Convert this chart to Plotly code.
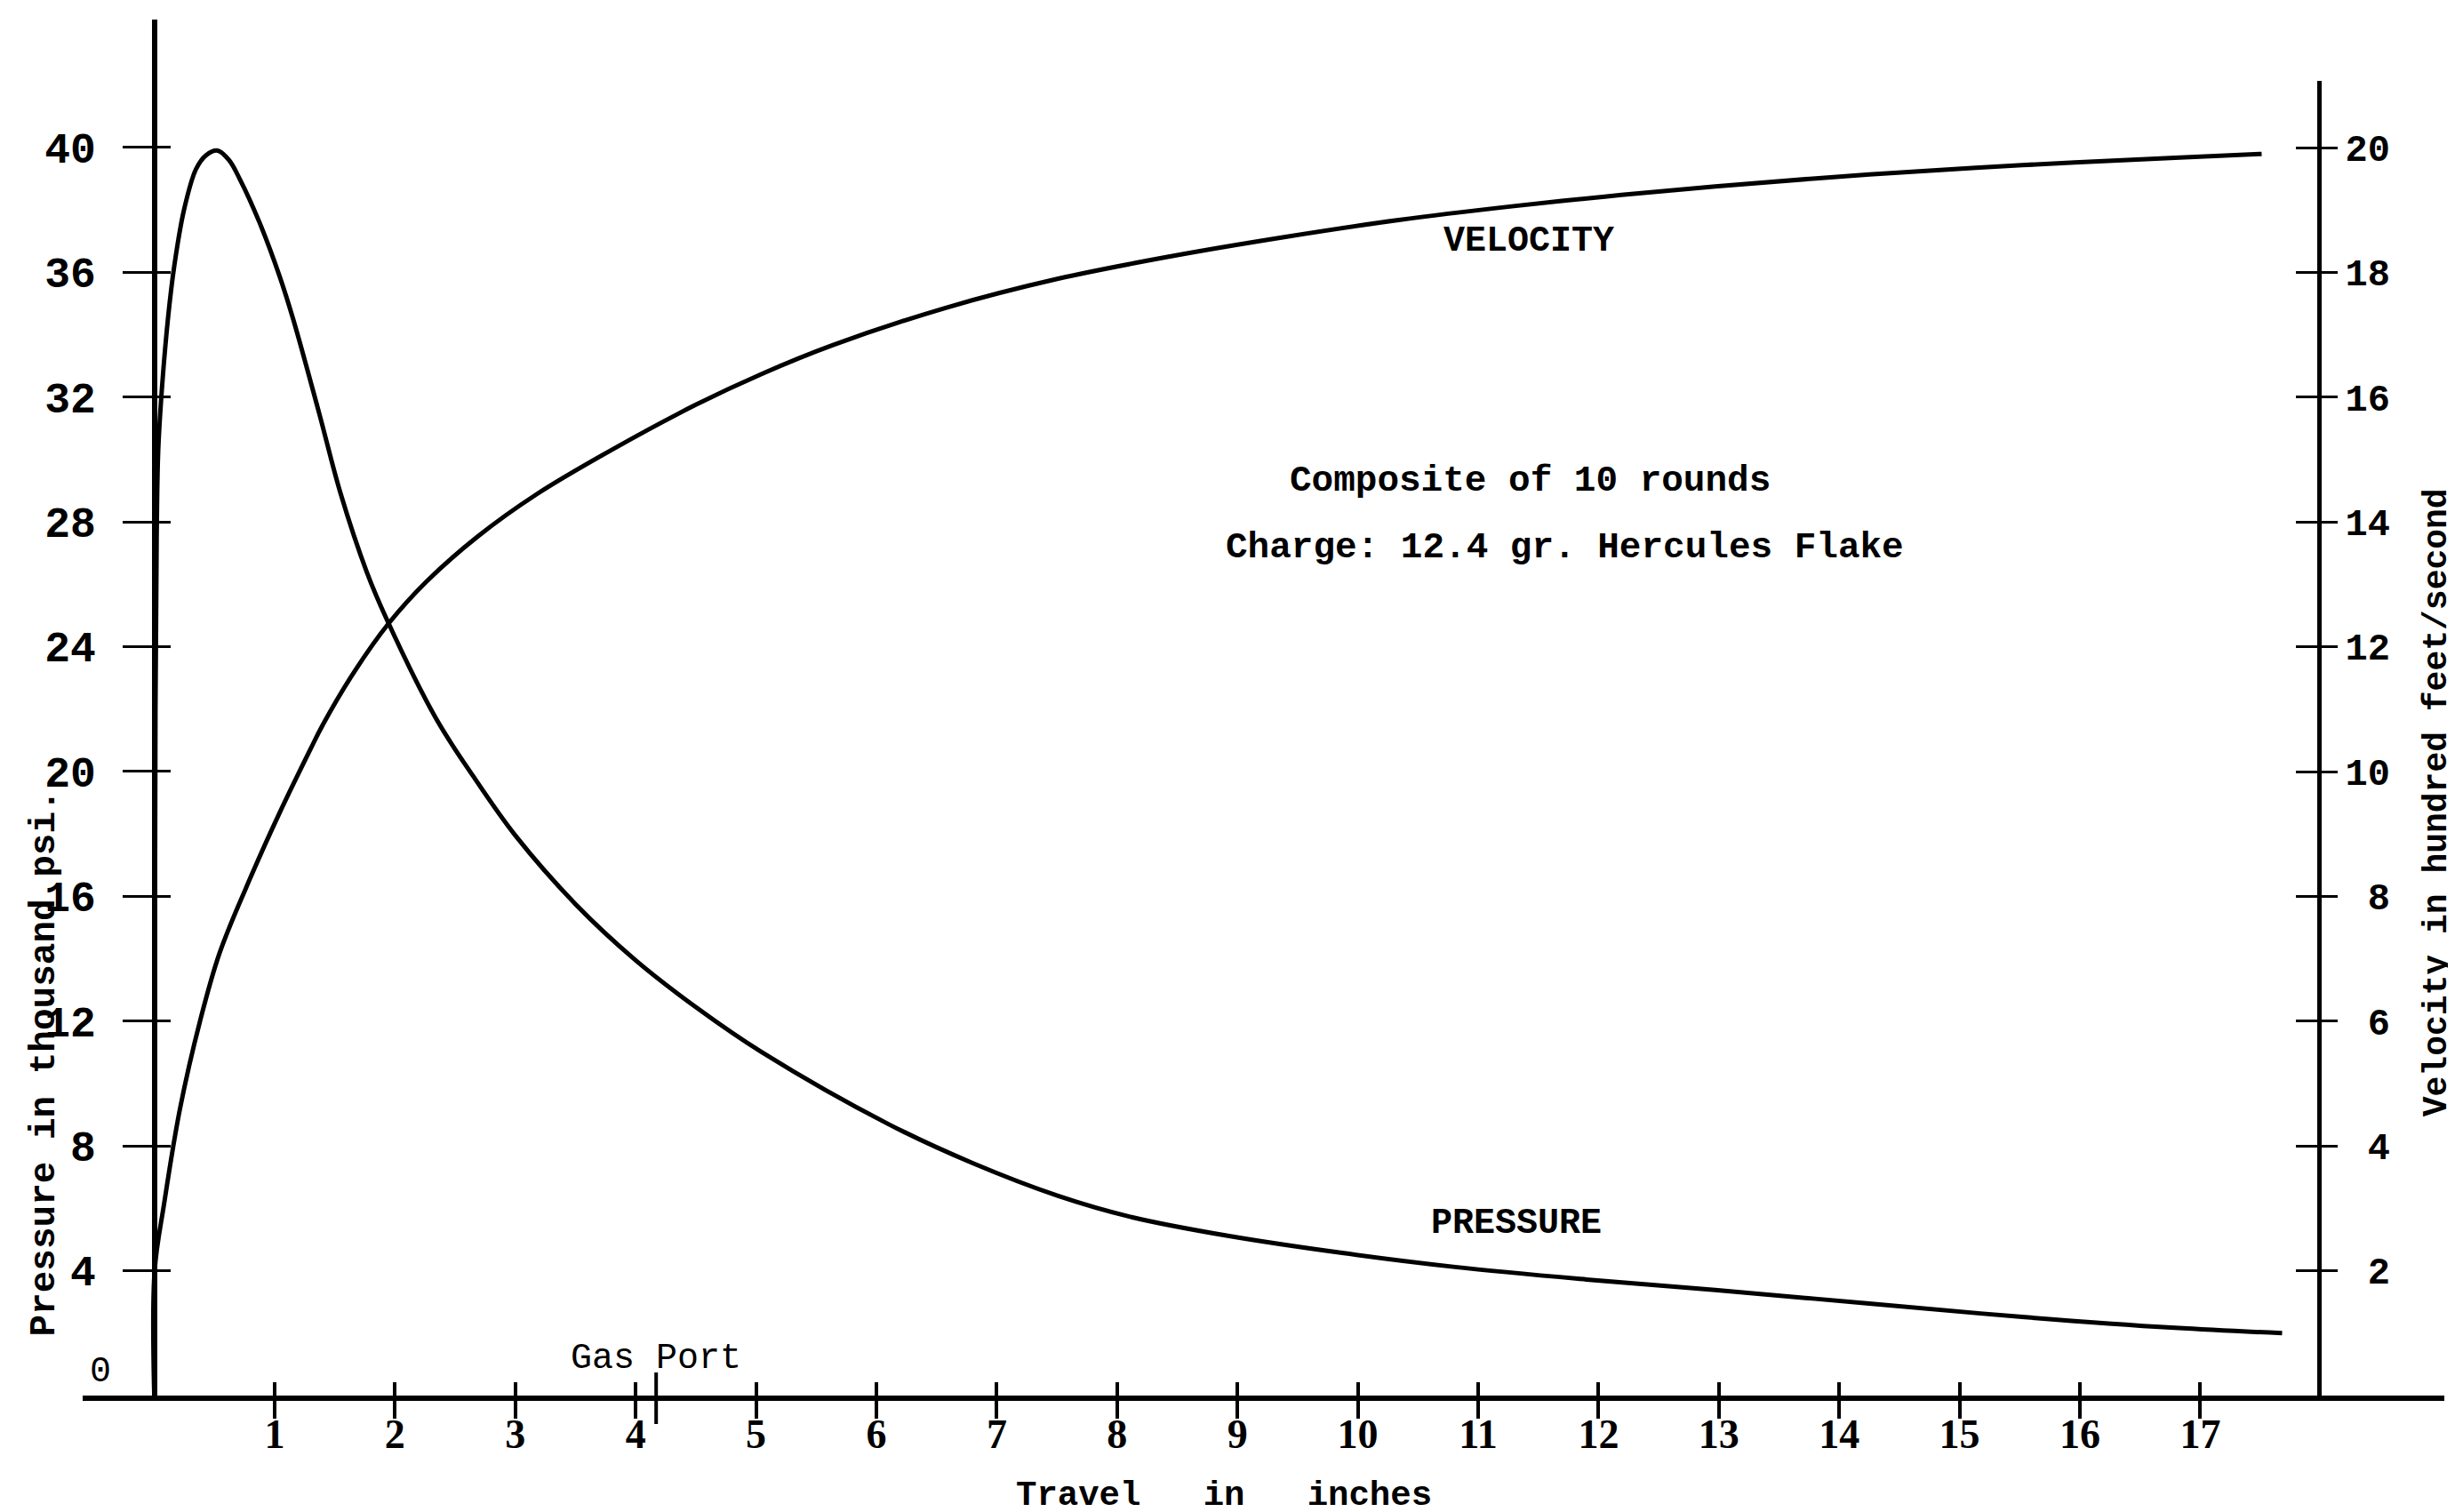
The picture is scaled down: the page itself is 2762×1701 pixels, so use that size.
import plotly.graph_objects as go

# ---------------- data ----------------
TRAVEL_P = [0.0, 0.004, 0.010, 0.020, 0.033, 0.066, 0.116, 0.166, 0.247, 0.346,
            0.43, 0.527, 0.62, 0.709, 0.874, 1.039, 1.154, 1.369, 1.549, 1.765,
            1.929, 2.341, 2.65, 3.0, 3.5, 4.0, 4.5, 5.05, 6.10, 6.80, 7.51,
            8.12, 8.92, 9.87, 10.81, 11.9, 12.97, 14.25, 15.52, 16.79, 17.68]
PRESSURE = [0.0, 12.0, 22.0, 27.5, 30.3, 32.4, 34.6, 36.2, 38.0, 39.3,
            39.75, 39.9, 39.6, 39.0, 37.6, 35.9, 34.5, 31.5, 28.9, 26.4,
            24.9, 21.7, 19.85, 17.95, 15.75, 13.95, 12.45, 11.0, 8.7, 7.45, 6.4,
            5.72, 5.12, 4.57, 4.12, 3.72, 3.38, 2.95, 2.52, 2.17, 2.0]

TRAVEL_V = [0.0, 0.003, 0.083, 0.214, 0.38, 0.544, 0.808, 1.039, 1.303, 1.40,
            1.665, 1.945, 2.258, 2.688, 3.18, 3.84, 4.50, 5.055, 5.63, 6.57,
            7.51, 8.45, 9.40, 10.34, 11.28, 12.07, 12.97, 14.25, 15.52, 16.79, 17.51]
VELOCITY = [0.0, 2.0, 3.09, 4.6, 6.0, 7.1, 8.34, 9.33, 10.38, 10.75,
            11.61, 12.37, 13.04, 13.77, 14.45, 15.2, 15.88, 16.38, 16.83, 17.43,
            17.90, 18.26, 18.57, 18.84, 19.06, 19.22, 19.38, 19.57, 19.72, 19.84, 19.90]

X_TICKS = list(range(1, 18))
X_TICK_LABELS = [str(v) for v in X_TICKS]
P_TICKS = list(range(4, 41, 4))
P_TICK_LABELS = [str(v) for v in P_TICKS]
V_TICKS = list(range(2, 21, 2))
V_TICK_LABELS = [("\u00a0" + str(v)) if v < 10 else str(v) for v in V_TICKS]
GAS_PORT_X = 4.17

# ---------------- layout geometry ----------------
W, H = 2762, 1701
ML, MR, MT, MB = 85, 20, 14, 139
PLOT_H = H - MT - MB
X_RANGE = [-0.595, 19.028]
P_RANGE = [0, 44.10]
V_RANGE = [0, 21.07]
Y2_TOP = 0.9554
Y_POS_L = 0.0303
Y_POS_R = 0.9470

MONO = "Liberation Mono, Courier New, monospace"
SERIF = "Liberation Serif, Times New Roman, serif"
BLACK = "black"
CLEAR = "rgba(0,0,0,0)"

fig = go.Figure()
fig.add_trace(go.Scatter(x=TRAVEL_P, y=PRESSURE, mode="lines", xaxis="x", yaxis="y",
                         line=dict(color=BLACK, width=5, shape="spline", smoothing=1.0),
                         showlegend=False, hoverinfo="skip"))
fig.add_trace(go.Scatter(x=TRAVEL_V, y=VELOCITY, mode="lines", xaxis="x", yaxis="y2",
                         line=dict(color=BLACK, width=5, shape="spline", smoothing=1.0),
                         showlegend=False, hoverinfo="skip"))
# empty traces so the tick-only overlay axes (crossing tick marks) get drawn
for xa, ya in (("x2", "y"), ("x", "y3"), ("x", "y4")):
    fig.add_trace(go.Scatter(x=[None], y=[None], mode="lines", xaxis=xa, yaxis=ya,
                             showlegend=False, hoverinfo="skip"))

common = dict(showgrid=False, zeroline=False, fixedrange=True, tickcolor=BLACK, linecolor=BLACK)

fig.update_layout(
    width=W, height=H,
    margin=dict(l=ML, r=MR, t=MT, b=MB, pad=0),
    paper_bgcolor="white", plot_bgcolor=CLEAR,
    showlegend=False,
    xaxis=dict(domain=[0, 1], range=X_RANGE, anchor="y", side="bottom",
               showline=True, linewidth=6, ticks="outside", ticklen=20, tickwidth=4,
               tickvals=X_TICKS, ticktext=X_TICK_LABELS, ticklabelstandoff=-22,
               tickfont=dict(family=SERIF, size=46, color=BLACK, weight="bold"), **common),
    xaxis2=dict(overlaying="x", range=X_RANGE, anchor="y", side="bottom",
                showline=False, ticks="inside", ticklen=15, tickwidth=4,
                tickvals=X_TICKS, showticklabels=False, **common),
    yaxis=dict(domain=[0, 1], range=P_RANGE, anchor="free", position=Y_POS_L, side="left",
               showline=True, linewidth=6, ticks="outside", ticklen=33, tickwidth=3,
               tickvals=P_TICKS, ticktext=P_TICK_LABELS, ticklabelstandoff=20,
               tickfont=dict(family=MONO, size=48, color=BLACK, weight="bold"), **common),
    yaxis3=dict(overlaying="y", range=P_RANGE, anchor="free", position=Y_POS_L, side="left",
                showline=False, ticks="inside", ticklen=17, tickwidth=3,
                tickvals=P_TICKS, showticklabels=False, **common),
    yaxis2=dict(domain=[0, Y2_TOP], range=V_RANGE, anchor="free", position=Y_POS_R, side="right",
                showline=True, linewidth=5, ticks="outside", ticklen=18, tickwidth=3,
                tickvals=V_TICKS, ticktext=V_TICK_LABELS, ticklabelstandoff=0,
                tickfont=dict(family=MONO, size=42, color=BLACK, weight="bold"), **common),
    yaxis4=dict(overlaying="y2", range=V_RANGE, anchor="free", position=Y_POS_R, side="right",
                showline=False, ticks="inside", ticklen=26, tickwidth=3,
                tickvals=V_TICKS, showticklabels=False, **common),
)

# gas port marker on the travel axis (taller tick)
fig.add_shape(type="line", xref="x", yref="paper", x0=GAS_PORT_X, x1=GAS_PORT_X,
              y0=-32 / PLOT_H, y1=26 / PLOT_H, line=dict(color=BLACK, width=4))

def note(text, x, y, size=40, family=MONO, weight="bold", xref="x", yref="y", angle=0):
    fig.add_annotation(text=text, x=x, y=y, xref=xref, yref=yref, showarrow=False,
                       textangle=angle, xanchor="center", yanchor="middle",
                       font=dict(family=family, size=size, color=BLACK, weight=weight))

note("VELOCITY", 11.42, 37.0)
note("PRESSURE", 11.32, 5.5)
note("Composite of 10 rounds", 11.43, 29.32, size=41)
note("Charge: 12.4 gr. Hercules Flake", 11.72, 27.18, size=41)
note("Gas Port", GAS_PORT_X, 1.17, weight="normal")
note("Pressure in thousand psi.", -0.0162, 0.2419, size=41, xref="paper", yref="paper", angle=-90)
note("Velocity in hundred feet/second", 0.9971, 0.4309, size=38, xref="paper", yref="paper", angle=-90)
note("Travel\u00a0\u00a0\u00a0in\u00a0\u00a0\u00a0inches", 0.4833, -0.0730, size=39,
     xref="paper", yref="paper")
note("0", 0.0075, 0.0168, weight="normal", xref="paper", yref="paper")

fig.write_html("out.html")
